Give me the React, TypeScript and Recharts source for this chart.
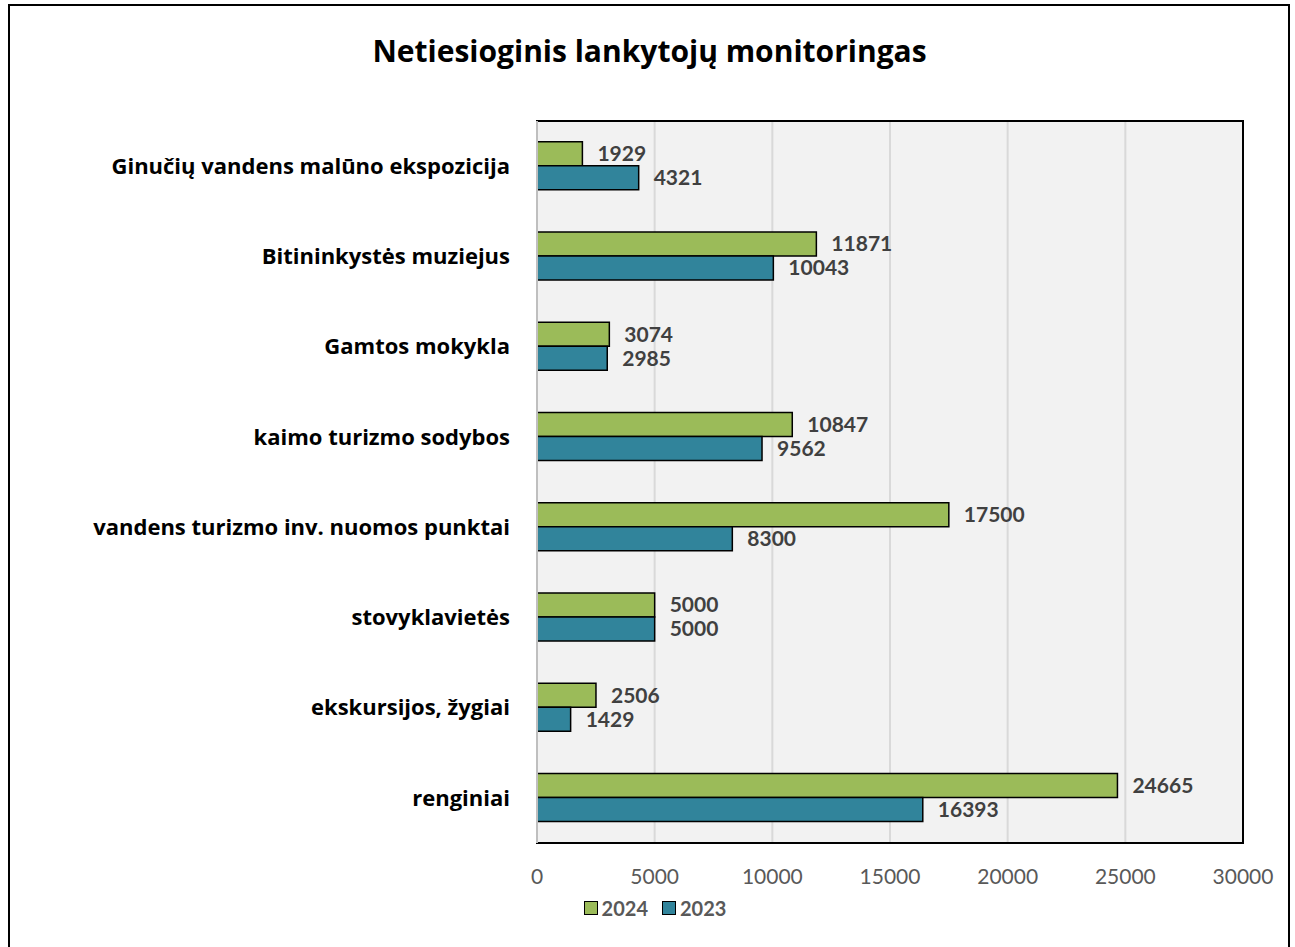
import {
  Bar,
  BarChart,
  CartesianGrid,
  LabelList,
  ReferenceArea,
  XAxis,
  YAxis,
} from 'recharts';

const categories = [
  'Ginučių vandens malūno ekspozicija',
  'Bitininkystės muziejus',
  'Gamtos mokykla',
  'kaimo turizmo sodybos',
  'vandens turizmo inv. nuomos punktai',
  'stovyklavietės',
  'ekskursijos, žygiai',
  'renginiai',
];
const values2024 = [1929, 11871, 3074, 10847, 17500, 5000, 2506, 24665];
const values2023 = [4321, 10043, 2985, 9562, 8300, 5000, 1429, 16393];
const xTicks = [0, 5000, 10000, 15000, 20000, 25000, 30000];

const GREEN = '#9bbb59';
const TEAL = '#31849b';
const FONT = 'Lato, "Open Sans", sans-serif';
const WIDE = '"Open Sans", Lato, sans-serif';

const data = categories.map((name, i) => ({
  name,
  y2024: values2024[i],
  y2023: values2023[i],
}));

function Legend() {
  const items = [
    { label: '2024', color: GREEN },
    { label: '2023', color: TEAL },
  ];
  return (
    <div
      style={{
        position: 'absolute',
        left: 0,
        width: 1310,
        top: 896,
        display: 'flex',
        justifyContent: 'center',
        gap: 14,
        fontFamily: FONT,
        fontWeight: 700,
        fontSize: 20,
        color: '#595959',
      }}
    >
      {items.map((item) => (
        <span key={item.label} style={{ display: 'flex', alignItems: 'center', gap: 4 }}>
          <span
            style={{
              width: 12,
              height: 12,
              background: item.color,
              border: '1.5px solid #000',
              display: 'inline-block',
            }}
          />
          {item.label}
        </span>
      ))}
    </div>
  );
}

export default function App() {
  return (
    <div
      style={{
        position: 'absolute',
        left: 0,
        top: 0,
        width: 1295,
        height: 947,
        overflow: 'hidden',
        background: '#fff',
      }}
    >
      <div
        style={{
          position: 'absolute',
          left: 8,
          top: 4,
          width: 1278,
          height: 980,
          border: '2px solid #000',
        }}
      />
      <div
        style={{
          position: 'absolute',
          left: 0,
          width: 1299,
          top: 30,
          textAlign: 'center',
          fontFamily: WIDE,
          fontWeight: 700,
          fontSize: 30,
          color: '#000',
        }}
      >
        Netiesioginis lankytojų monitoringas
      </div>
      <div style={{ position: 'absolute', left: 0, top: 0 }}>
        <BarChart
          width={1295}
          height={947}
          data={data}
          layout="vertical"
          margin={{ top: 121, right: 52, bottom: 64, left: 0 }}
          barCategoryGap="23%"
          barGap={0}
        >
          <CartesianGrid horizontal={false} stroke="#d9d9d9" strokeWidth={2} fill="#f2f2f2" />
          <XAxis
            type="number"
            domain={[0, 30000]}
            ticks={xTicks}
            axisLine={false}
            tickLine={false}
            tick={{ fill: '#595959', fontSize: 21, fontFamily: FONT }}
            tickMargin={20}
            height={40}
            interval={0}
          />
          <YAxis
            type="category"
            dataKey="name"
            width={537}
            axisLine={{ stroke: '#bfbfbf', strokeWidth: 2 }}
            tickLine={false}
            tick={{ fill: '#000', fontSize: 22, fontWeight: 700, fontFamily: WIDE }}
            tickMargin={21}
            interval={0}
          />
          <ReferenceArea
            x1={0}
            x2={30000}
            fill="none"
            stroke="#000"
            strokeWidth={2}
            ifOverflow="visible"
          />
          <Bar dataKey="y2024" fill={GREEN} stroke="#000" strokeWidth={1.5} isAnimationActive={false}>
            <LabelList
              dataKey="y2024"
              position="right"
              offset={15}
              fill="#404040"
              fontSize={21}
              fontWeight={700}
              fontFamily={FONT}
            />
          </Bar>
          <Bar dataKey="y2023" fill={TEAL} stroke="#000" strokeWidth={1.5} isAnimationActive={false}>
            <LabelList
              dataKey="y2023"
              position="right"
              offset={15}
              fill="#404040"
              fontSize={21}
              fontWeight={700}
              fontFamily={FONT}
            />
          </Bar>
        </BarChart>
      </div>
      <Legend />
    </div>
  );
}
